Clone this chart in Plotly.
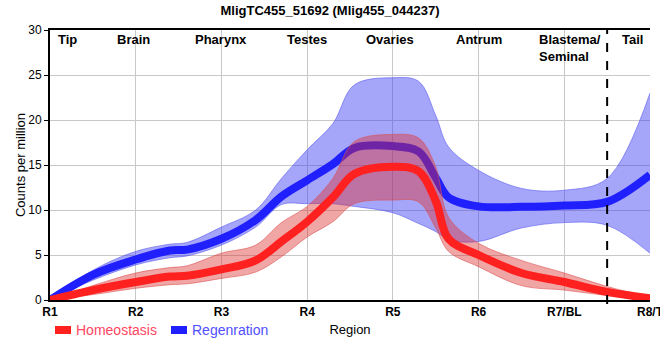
import plotly.graph_objects as go

# ---------------- data ----------------
tick_labels = ["R1", "R2", "R3", "R4", "R5", "R6", "R7/BL", "R8/T"]
region_names = ["Tip", "Brain", "Pharynx", "Testes", "Ovaries", "Antrum", "Blastema/<br>Seminal", "Tail"]
region_label_pos = [0.2, 0.97, 2.0, 3.0, 3.97, 5.0, 6.07, 6.8]

x_pos = [0, 0.5, 1, 1.4, 1.6, 2, 2.4, 2.7, 3, 3.3, 3.55, 4, 4.3, 4.5, 4.65, 5, 5.5, 6, 6.5, 7]

homeo_mean = [0, 1.1, 2.0, 2.6, 2.7, 3.4, 4.4, 6.5, 8.7, 11.4, 14.0, 14.8, 14.3, 11.0, 6.8, 5.0, 3.0, 2.0, 0.9, 0.2]
homeo_upper = [0, 1.6, 3.0, 3.6, 3.8, 5.2, 6.1, 8.6, 10.4, 13.5, 17.6, 18.4, 18.0, 14.8, 9.2, 6.3, 4.4, 3.0, 1.5, 0.3]
homeo_lower = [0, 0.6, 1.3, 1.7, 1.8, 2.4, 3.1, 4.8, 7.0, 8.7, 10.7, 11.1, 10.9, 8.0, 5.4, 3.7, 1.6, 1.1, 0.5, 0.0]

regen_mean = [0, 2.8, 4.5, 5.5, 5.6, 6.8, 8.9, 11.5, 13.3, 15.1, 16.9, 17.1, 16.5, 13.6, 11.4, 10.4, 10.35, 10.5, 10.9, 13.9]
regen_upper = [0, 3.3, 5.4, 6.2, 6.4, 8.1, 10.0, 13.5, 16.7, 19.6, 23.9, 24.7, 24.3, 20.5, 17.0, 14.4, 12.4, 12.2, 13.5, 23.0]
regen_lower = [0, 2.2, 3.9, 4.7, 4.9, 6.1, 8.1, 10.6, 10.7, 10.7, 10.4, 9.7, 8.5, 7.6, 6.7, 6.5, 8.0, 8.6, 8.3, 5.2]

divider_x = 6.5

# ---------------- styles ----------------
RED = "rgb(255,32,32)"
BLUE = "rgb(32,32,255)"
RED_BAND = "rgba(222,44,44,0.42)"
BLUE_BAND = "rgba(55,55,244,0.45)"
FONT = "Liberation Sans, Arial, sans-serif"

fig = go.Figure()

def add_band(lower, upper, fillcol, edgecol):
    fig.add_trace(go.Scatter(x=x_pos, y=lower, mode="lines",
                             line=dict(color=edgecol, width=1, shape="spline"),
                             showlegend=False, hoverinfo="skip"))
    fig.add_trace(go.Scatter(x=x_pos, y=upper, mode="lines", fill="tonexty",
                             fillcolor=fillcol,
                             line=dict(color=edgecol, width=1, shape="spline"),
                             showlegend=False, hoverinfo="skip"))

add_band(regen_lower, regen_upper, BLUE_BAND, "rgba(90,90,240,0.6)")
fig.add_trace(go.Scatter(x=x_pos, y=regen_mean, mode="lines",
                         line=dict(color=BLUE, width=8, shape="spline"),
                         name="Regenration", showlegend=False))
add_band(homeo_lower, homeo_upper, RED_BAND, "rgba(220,80,80,0.6)")
fig.add_trace(go.Scatter(x=x_pos, y=homeo_mean, mode="lines",
                         line=dict(color=RED, width=8, shape="spline"),
                         name="Homeostasis", showlegend=False))

# dashed divider (extends slightly below the axis)
fig.add_shape(type="line", x0=divider_x, x1=divider_x, y0=-4 / 270, y1=1,
              xref="x", yref="paper", line=dict(color="black", width=2, dash="dash"))

# region labels
for name, xp in zip(region_names, region_label_pos):
    fig.add_annotation(x=xp, y=1, xref="x", yref="paper", text="<b>" + name + "</b>",
                       showarrow=False, yanchor="top", yshift=0, align="left",
                       font=dict(family=FONT, size=13, color="black"))

# manual legend
legend_items = [("Homeostasis", RED, "rgb(255,70,95)"), ("Regenration", BLUE, "rgb(80,80,255)")]
lx = [55, 171]
for (name, col, tcol), px in zip(legend_items, lx):
    x0 = (px - 50) / 600
    x1 = (px + 16 - 50) / 600
    fig.add_shape(type="rect", xref="paper", yref="paper",
                  x0=x0, x1=x1, y0=-(326 - 300) / 270, y1=-(334 - 300) / 270,
                  fillcolor=col, line=dict(width=0))
    fig.add_annotation(x=(px + 19 - 50) / 600, y=-(330 - 300) / 270, xref="paper", yref="paper",
                       text=name, showarrow=False, xanchor="left", yanchor="middle",
                       font=dict(family=FONT, size=14, color=tcol))

fig.update_layout(
    width=660, height=360,
    margin=dict(l=50, r=10, t=30, b=60, autoexpand=False),
    paper_bgcolor="white", plot_bgcolor="white",
    title=dict(text="<b>MligTC455_51692 (Mlig455_044237)</b>", x=0.5, xanchor="center",
               y=1 - 10 / 360, yanchor="middle", font=dict(family=FONT, size=13, color="black")),
    showlegend=False,
    font=dict(family=FONT, size=12, color="black"),
)
fig.update_xaxes(range=[0, 7], tickvals=list(range(len(tick_labels))),
                 ticktext=["<b>" + t + "</b>" for t in tick_labels],
                 ticklabeloverflow="allow",
                 showgrid=True, gridcolor="rgb(200,200,200)", gridwidth=1,
                 showline=True, linecolor="black", linewidth=2, mirror=True,
                 ticks="", zeroline=False, automargin=False,
                 title=dict(text="Region", standoff=6, font=dict(family=FONT, size=13)),
                 tickfont=dict(family=FONT, size=12, color="black"))
fig.update_yaxes(range=[0, 30], tickvals=[0, 5, 10, 15, 20, 25, 30],
                 showgrid=True, gridcolor="rgb(200,200,200)", gridwidth=1,
                 showline=True, linecolor="black", linewidth=2,
                 ticks="outside", ticklen=4, tickcolor="black", zeroline=False, automargin=False,
                 title=dict(text="Counts per million", standoff=0, font=dict(family=FONT, size=13)),
                 tickfont=dict(family=FONT, size=12, color="black"))

fig.write_html("out.html", config={"displayModeBar": False},
               post_script="document.body.style.margin='0';")
